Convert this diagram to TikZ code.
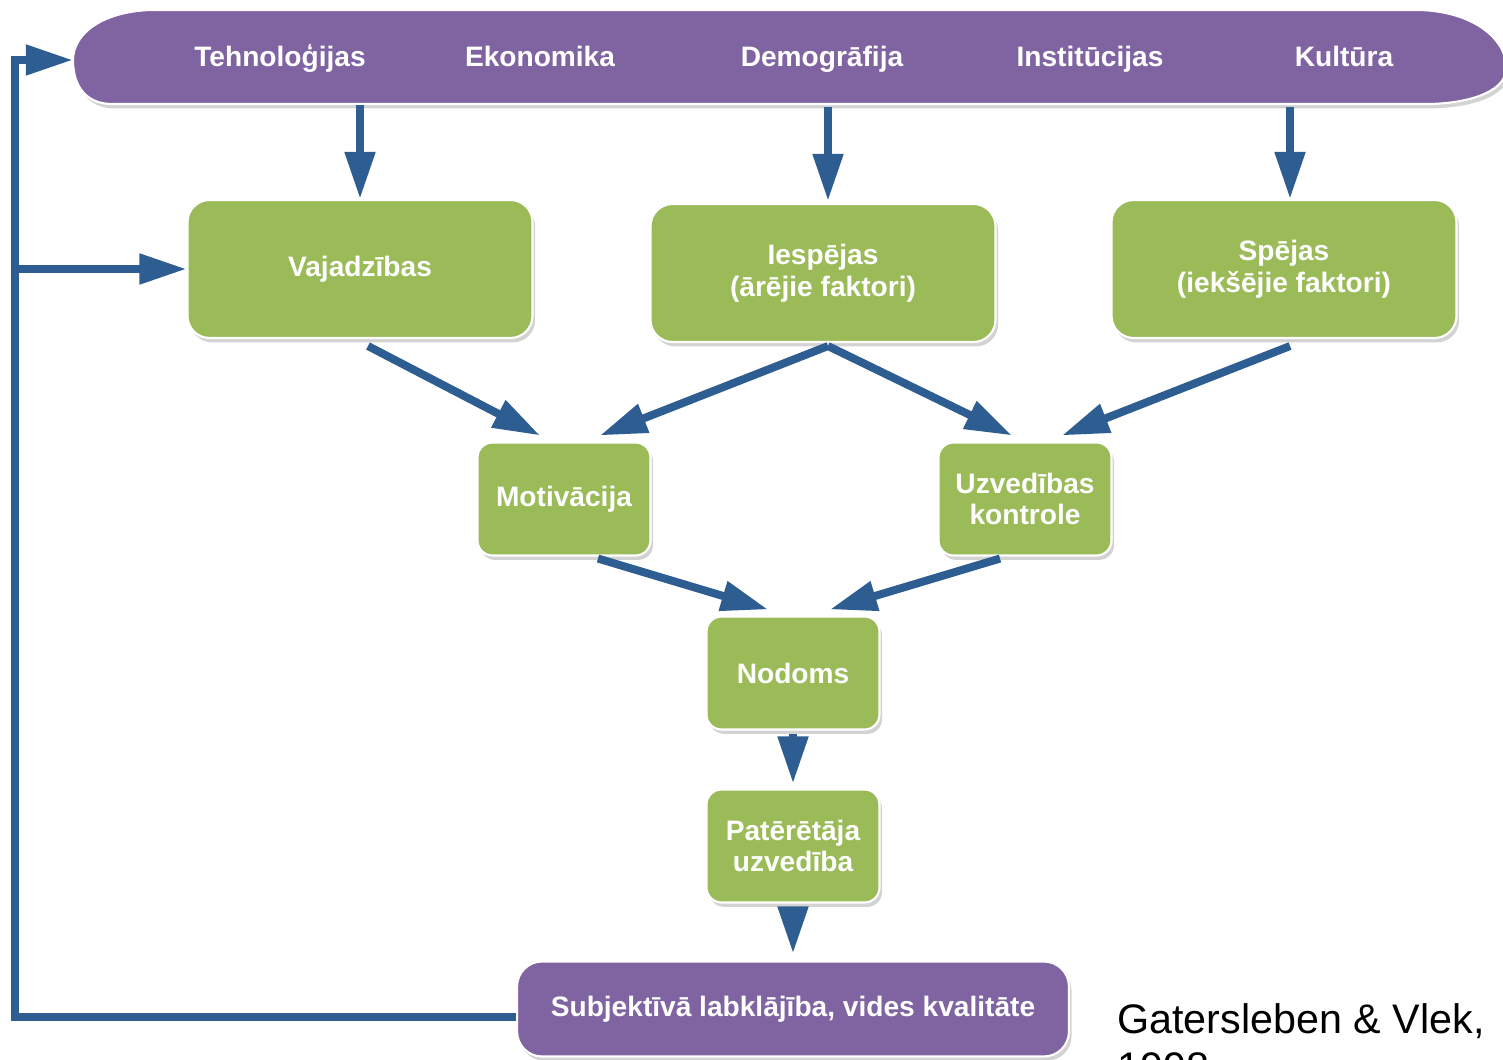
\documentclass[tikz,border=0pt]{standalone}
\usepackage{fontspec}
\setmainfont{Liberation Sans}
\usetikzlibrary{arrows.meta, positioning, calc, shadows}
\definecolor{boxgreen}{RGB}{155,187,89}
\definecolor{bandpurple}{RGB}{128,100,162}
\definecolor{arrowblue}{RGB}{46,93,146}
\tikzset{
  factor/.style={fill=boxgreen, draw=white, line width=1.2pt, rounded corners=0.44cm,
    text=white, font=\fontsize{16}{18}\selectfont\bfseries, align=center,
    drop shadow={opacity=0.35, shadow xshift=1.5pt, shadow yshift=-2.5pt}},
  bigfactor/.style={factor, minimum width=6.9cm, minimum height=2.76cm},
  smallfactor/.style={factor, rounded corners=0.3cm, minimum width=3.46cm, minimum height=2.26cm},
  arr/.style={draw=arrowblue, line width=0.16cm, -{Triangle[length=0.94cm, width=0.58cm]}},
  bandtext/.style={text=white, font=\fontsize{16}{18}\selectfont\bfseries, anchor=base},
}

\begin{document}
\begin{tikzpicture}[x=0.02cm, y=-0.02cm]
    \useasboundingbox (0,0) rectangle (1503,1060);
    \clip (0,0) rectangle (1503,1060);

    % Outer factors band
    \fill[bandpurple, drop shadow={opacity=0.35, shadow xshift=1.5pt, shadow yshift=-2.5pt}]
        (150,10) -- (1420,10) .. controls (1480,12) and (1510,45) .. (1506,72)
        .. controls (1502,92) and (1470,103) .. (1430,104) -- (110,104)
        .. controls (85,103) and (73,85) .. (73,60)
        .. controls (73,35) and (100,12) .. (150,10) -- cycle;
    \draw[white, line width=1.2pt]
        (150,10) -- (1420,10) .. controls (1480,12) and (1510,45) .. (1506,72)
        .. controls (1502,92) and (1470,103) .. (1430,104) -- (110,104)
        .. controls (85,103) and (73,85) .. (73,60)
        .. controls (73,35) and (100,12) .. (150,10) -- cycle;
    \node[minimum width=28.6cm, minimum height=1.9cm, inner sep=0] (ext) at (788,57) {};
    \foreach \x/\word [count=\i] in {280/Tehnoloģijas, 540/Ekonomika, 822/Demogrāfija,
        1090/Institūcijas, 1344/Kultūra}
        \node[bandtext] (ext\i) at (\x,67) {\word};

    % Boxes
    \node[bigfactor] (needs) at (360,269) {Vajadzības};
    \node[bigfactor] (opps) at (823,273) {Iespējas\\(ārējie faktori)};
    \node[bigfactor] (abil) at (1284,269) {Spējas\\(iekšējie faktori)};
    \node[smallfactor] (motiv) at (564,499) {Motivācija};
    \node[smallfactor] (pbc) at (1025,499) {Uzvedības\\kontrole};
    \node[smallfactor] (intent) at (793,673) {Nodoms};
    \node[smallfactor] (behav) at (793,846) {Patērētāja\\uzvedība};
    \node[factor, fill=bandpurple, rounded corners=0.5cm, minimum width=11.04cm,
        minimum height=1.9cm, text depth=3pt]
        (wellb) at (793,1009) {Subjektīvā labklājība, vides kvalitāte};

    % Arrows
    \draw[arr] (ext.south -| needs.north) -- (needs.north);
    \draw[arr] ($(ext.south -| opps.north)+(5,2)$) -- ($(opps.north)+(5,-2)$);
    \draw[arr] ($(ext.south -| abil.north)+(6,2)$) -- ($(abil.north)+(6,0)$);
    \draw[arr] ($(needs.south)+(8,7)$) -- ($(motiv.north)+(-24,-6)$);
    \draw[arr] ($(opps.south)+(5,3)$) -- ($(motiv.north)+(36,-6)$);
    \draw[arr] ($(opps.south)+(5,3)$) -- ($(pbc.north)+(-13,-6)$);
    \draw[arr] ($(abil.south)+(6,7)$) -- ($(pbc.north)+(37,-6)$);
    \draw[arr] ($(motiv.south)+(34,2)$) -- ($(intent.north)+(-25,-6)$);
    \draw[arr] ($(pbc.south)+(-25,2)$) -- ($(intent.north)+(37,-6)$);
    \draw[arr] ($(intent.south)+(0,3)$) -- ($(behav.north)+(0,-5)$);
    \draw[arr] ($(behav.south)+(0,3)$) -- ($(wellb.north)+(0,-7)$);

    % Feedback loop
    \coordinate (fbtop) at (15,60);
    \draw[arr] ($(wellb.west)+(0,8)$) -| (fbtop) -- (ext.west |- fbtop);
    \draw[arr] (fbtop |- needs.west) -- (needs.west);

    % Source
    \node[font=\fontsize{23.5}{27}\selectfont, anchor=base west, align=left, inner sep=0] (cite)
        at (1117,1081) {Gatersleben \& Vlek,\\1998};
\end{tikzpicture}
\end{document}
